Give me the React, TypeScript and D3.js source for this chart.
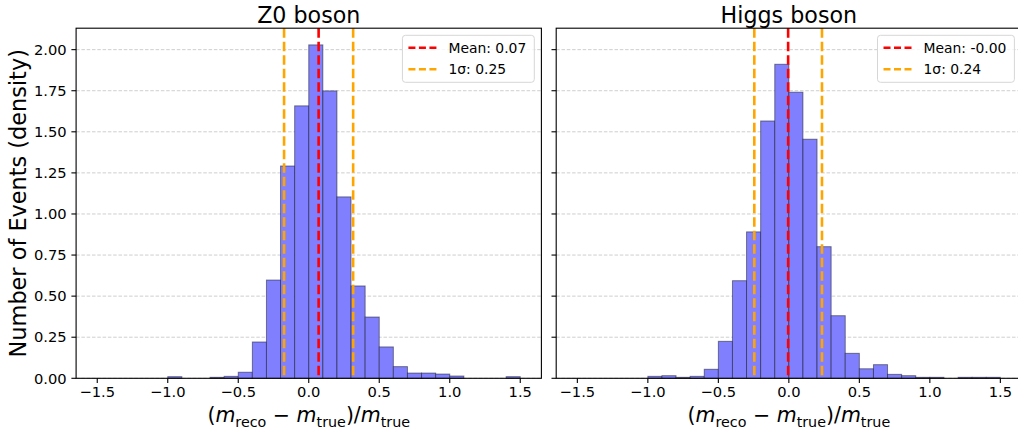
import { useEffect, useRef } from "react";
import * as d3 from "d3";

// histogram bins: 30 bins of width 0.1 from -1.5 to 1.5
const binEdges = d3.range(31).map((i) => +(-1.5 + i * 0.1).toFixed(2));

// density per bin
const z0Density = [
  0, 0, 0, 0, 0, 0.01, 0, 0, 0.006, 0.012, 0.037, 0.221, 0.598, 1.292, 1.658,
  2.029, 1.749, 1.104, 0.562, 0.373, 0.191, 0.071, 0.032, 0.032, 0.026, 0.014,
  0, 0, 0, 0.01,
];
const higgsDensity = [
  0, 0, 0, 0, 0, 0.012, 0.016, 0.006, 0.012, 0.055, 0.225, 0.594, 0.891, 1.566,
  1.911, 1.741, 1.455, 0.801, 0.381, 0.152, 0.058, 0.083, 0.024, 0.016, 0.006,
  0.006, 0, 0.006, 0.006, 0.006,
];

const panelTitles = ["Z0 boson", "Higgs boson"];
const means = [0.07, -0.005];
const sigmas = [0.245, 0.24];
const meanLabels = ["Mean: 0.07", "Mean: -0.00"];
const sigmaLabels = ["1σ: 0.25", "1σ: 0.24"];

const xTicks = [-1.5, -1.0, -0.5, 0.0, 0.5, 1.0, 1.5];
const yTicks = [0, 0.25, 0.5, 0.75, 1.0, 1.25, 1.5, 1.75, 2.0];

const FONT = "DejaVu Sans, sans-serif";
const fmtTick = (v: number, digits: number) => v.toFixed(digits).replace("-", "\u2212");

function App() {
  const ref = useRef<HTMLDivElement>(null);

  useEffect(() => {
    const width = 1018;
    const height = 428;
    const top = 28.2;
    const bottom = 378.3;
    const panels = [
      { left: 76.1, right: 541.4, data: z0Density },
      { left: 556.2, right: 1021.5, data: higgsDensity },
    ];

    const svg = d3
      .select(ref.current)
      .append("svg")
      .attr("width", width)
      .attr("height", height)
      .style("position", "absolute")
      .style("left", "0px")
      .style("top", "0px")
      .style("background", "#fff")
      .style("font-family", FONT);

    const yScale = d3.scaleLinear([0, 2.1305], [bottom, top]);

    panels.forEach((p, k) => {
      const xScale = d3.scaleLinear([-1.65, 1.65], [p.left, p.right]);
      const g = svg.append("g");

      // grid
      g.selectAll("line.grid")
        .data(yTicks)
        .enter()
        .append("line")
        .attr("x1", p.left)
        .attr("x2", p.right)
        .attr("y1", (d) => yScale(d))
        .attr("y2", (d) => yScale(d))
        .attr("stroke", "#c8c8c8")
        .attr("stroke-width", 0.9)
        .attr("stroke-dasharray", "3.5,1.8");

      // bars
      const bins = p.data
        .map((v, i) => ({ x0: binEdges[i], x1: binEdges[i + 1], v }))
        .filter((d) => d.v > 0);
      g.selectAll("rect.bar")
        .data(bins)
        .enter()
        .append("rect")
        .attr("x", (d) => xScale(d.x0))
        .attr("width", (d) => xScale(d.x1) - xScale(d.x0))
        .attr("y", (d) => yScale(d.v))
        .attr("height", (d) => yScale(0) - yScale(d.v))
        .attr("fill", "#8080ff")
        .attr("stroke", "rgba(0,0,0,0.45)")
        .attr("stroke-width", 1);

      // mean and sigma lines
      const vlines = [
        { x: means[k], c: "#ff0000" },
        { x: means[k] - sigmas[k], c: "#ffa500" },
        { x: means[k] + sigmas[k], c: "#ffa500" },
      ];
      g.selectAll("line.vl")
        .data(vlines)
        .enter()
        .append("line")
        .attr("x1", (d) => xScale(d.x))
        .attr("x2", (d) => xScale(d.x))
        .attr("y1", top)
        .attr("y2", bottom)
        .attr("stroke", (d) => d.c)
        .attr("stroke-width", 2.6)
        .attr("stroke-dasharray", "9.5,4");

      // frame
      g.append("rect")
        .attr("x", p.left)
        .attr("y", top)
        .attr("width", p.right - p.left)
        .attr("height", bottom - top)
        .attr("fill", "none")
        .attr("stroke", "#000")
        .attr("stroke-width", 1.1);

      // x ticks
      const xt = g.selectAll("g.xt").data(xTicks).enter().append("g");
      xt.append("line")
        .attr("x1", (d) => xScale(d))
        .attr("x2", (d) => xScale(d))
        .attr("y1", bottom)
        .attr("y2", bottom + 4.7)
        .attr("stroke", "#000")
        .attr("stroke-width", 1.1);
      xt.append("text")
        .attr("x", (d) => xScale(d))
        .attr("y", 397)
        .attr("text-anchor", "middle")
        .attr("font-size", "14.7px")
        .attr("fill", "#000")
        .text((d) => fmtTick(d, 1));

      // y ticks
      const yt = g.selectAll("g.yt").data(yTicks).enter().append("g");
      yt.append("line")
        .attr("x1", p.left - 4.7)
        .attr("x2", p.left)
        .attr("y1", (d) => yScale(d))
        .attr("y2", (d) => yScale(d))
        .attr("stroke", "#000")
        .attr("stroke-width", 1.1);
      if (k === 0) {
        yt.append("text")
          .attr("x", p.left - 9.4)
          .attr("y", (d) => yScale(d) + 5.2)
          .attr("text-anchor", "end")
          .attr("font-size", "14.7px")
          .attr("fill", "#000")
          .text((d) => fmtTick(d, 2));
      }

      // title
      g.append("text")
        .attr("x", (p.left + p.right) / 2)
        .attr("y", 23.3)
        .attr("text-anchor", "middle")
        .attr("font-size", "22.2px")
        .attr("fill", "#000")
        .text(panelTitles[k]);

      // x label (mathtext-like)
      const xl = g
        .append("text")
        .attr("x", (p.left + p.right) / 2)
        .attr("y", 422)
        .attr("text-anchor", "middle")
        .attr("font-size", "20.5px")
        .attr("fill", "#000");
      const parts: [string, string][] = [
        ["(", "n"],
        ["m", "i"],
        ["reco", "s"],
        [" \u2212 ", "n"],
        ["m", "i"],
        ["true", "s"],
        [")/", "n"],
        ["m", "i"],
        ["true", "s"],
      ];
      let shifted = false;
      parts.forEach(([t, kind]) => {
        const ts = xl.append("tspan").text(t);
        if (kind === "i") ts.attr("font-style", "italic");
        if (kind === "s") {
          ts.attr("font-size", "14.3px");
          if (!shifted) ts.attr("dy", 4.5);
          shifted = true;
        } else if (shifted) {
          ts.attr("dy", -4.5);
          shifted = false;
        }
      });

      // legend
      const lg = g.append("g");
      const items = [
        { label: meanLabels[k], c: "#ff0000" },
        { label: sigmaLabels[k], c: "#ffa500" },
      ];
      const texts = items.map((d, i) =>
        lg
          .append("text")
          .attr("y", 47.7 + i * 21.6 + 4.8)
          .attr("font-size", "13.9px")
          .attr("fill", "#000")
          .text(d.label)
      );
      const tw = d3.max(texts, (t) => (t.node() as SVGTextElement).getComputedTextLength()) ?? 0;
      const boxW = 46 + tw + 8;
      const boxX = p.right - 7.1 - boxW;
      lg.insert("rect", "text")
        .attr("x", boxX)
        .attr("y", 35.3)
        .attr("width", boxW)
        .attr("height", 47)
        .attr("rx", 3)
        .attr("fill", "rgba(255,255,255,0.8)")
        .attr("stroke", "#d6d6d6")
        .attr("stroke-width", 1);
      texts.forEach((t) => t.attr("x", boxX + 46));
      items.forEach((d, i) => {
        lg.append("line")
          .attr("x1", boxX + 6)
          .attr("x2", boxX + 34)
          .attr("y1", 47.7 + i * 21.6)
          .attr("y2", 47.7 + i * 21.6)
          .attr("stroke", d.c)
          .attr("stroke-width", 2.6)
          .attr("stroke-dasharray", "7,3.5");
      });
    });

    // y label
    svg
      .append("text")
      .attr("transform", `translate(25.5,${(top + bottom) / 2}) rotate(-90)`)
      .attr("text-anchor", "middle")
      .attr("font-size", "22.4px")
      .attr("fill", "#000")
      .text("Number of Events (density)");

    return () => {
      d3.select(ref.current).select("svg").remove();
    };
  }, []);

  return <div ref={ref}></div>;
}

export default App;
